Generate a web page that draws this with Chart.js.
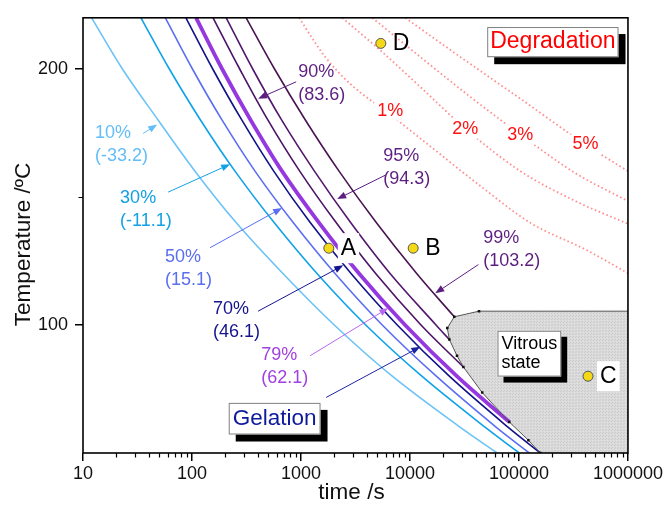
<!DOCTYPE html>
<html>
<head>
<meta charset="utf-8">
<title>TTT diagram</title>
<script src="https://cdn.jsdelivr.net/npm/chart.js@4.4.1/dist/chart.umd.min.js"></script>
<style>
  html, body { margin: 0; padding: 0; background: #fff; }
</style>
</head>
<body>
<canvas id="tttChart" width="665" height="511"></canvas>
<script>
// =============================
// DATA
// =============================
// iso-conversion curves: temperature (ºC) vs time (s)
const tempLevels = [220, 200, 180, 160, 140, 120, 100, 80, 60, 50];
const time10 = [12, 23, 49, 107, 254, 686, 2020, 6880, 28970, 63300];
const time30 = [34, 62, 120, 249, 567, 1409, 3927, 12840, 49150, 100900];
const time50 = [57, 101, 189, 380, 848, 2061, 5567, 17440, 62000, 124600];
const time70 = [88, 155, 287, 564, 1215, 2891, 7645, 22960, 79750, 157300];

const temp79 = [220, 200, 180, 160, 140, 120, 100, 80, 62.1];
const time79 = [109, 189, 346, 672, 1460, 3423, 9016, 26900, 81600];
const temp90 = [220, 200, 180, 160, 140, 120, 100, 83.6];
const time90 = [156, 274, 498, 977, 2100, 4863, 12620, 30900];
const temp95 = [220, 200, 180, 160, 140, 120, 100, 94.3];
const time95 = [206, 361, 666, 1333, 2854, 6594, 17330, 23000];
const temp99 = [220, 200, 180, 160, 140, 120, 103.2];
const time99 = [314, 572, 1100, 2243, 4903, 11570, 25500];

// vitrification boundary (first point sits on the right edge)
const glassTime = [1000000, 43000, 25500, 22000, 23000, 27000, 30900, 46000, 81600, 122000, 157000];
const glassTemp = [105.4, 105.4, 103.2, 98.8, 94.3, 88, 83.6, 73.6, 62.1, 55, 50];

// degradation iso-conversion lines
const deg1Time = [960, 1670, 2830, 6590, 15350, 44250, 127400, 424600, 1000000];
const deg1Temp = [220, 204.7, 194.2, 182.2, 169.8, 154.3, 139.9, 129.1, 120.2];
const deg2Time = [2390, 5570, 12440, 32210, 103000, 329600, 1000000];
const deg2Temp = [220, 206.6, 193, 176.7, 160.1, 148.4, 139.5];
const deg3Time = [4510, 12440, 35800, 103000, 329600, 1000000];
const deg3Temp = [220, 204.7, 189.1, 174.4, 159.3, 148.4];
const deg5Time = [9060, 28970, 103000, 407400, 1000000];
const deg5Temp = [220, 204.7, 188.4, 170.5, 160.1];

// cure states
const pointNames = ['A', 'B', 'C', 'D'];
const pointTime = [1800, 10700, 430000, 5400];
const pointTemp = [130, 130, 80, 210];

const xTicks = [10, 100, 1000, 10000, 100000, 1000000];
const yTicks = [100, 200];

// =============================
// LABELS
// =============================
const FONT = 'Arial, "Liberation Sans", sans-serif';

const curveNotes = [
    { text: ['10%', '(-33.2)'], at: [12.9, 174.8], from: [35.6, 174.8], to: [47.9, 178.3], color: '#63bdf8' },
    { text: ['30%', '(-11.1)'], at: [21.9, 149.6], from: [60.4, 151.9], to: [224, 162.8], color: '#12a0e6' },
    { text: ['50%', '(15.1)'], at: [56.6, 126.7], from: [146.6, 130.2], to: [671, 145.7], color: '#5a6ef0' },
    { text: ['70%', '(46.1)'], at: [156, 106.2], from: [404, 105.4], to: [2443, 123.3], color: '#141490' },
    { text: ['79%', '(62.1)'], at: [431, 88.4], from: [1213, 88.0], to: [6324, 106.6], color: '#a040e0', arrowColor: '#b868f0' },
    { text: ['90%', '(83.6)'], at: [942, 198.8], from: [904, 195], to: [404, 188.4], color: '#5c1f80' },
    { text: ['95%', '(94.3)'], at: [5690, 165.9], from: [5930, 158.5], to: [2148, 149.2], color: '#5c1f80' },
    { text: ['99%', '(103.2)'], at: [47100, 134.1], from: [42400, 123.6], to: [17060, 112.4], color: '#5c1f80' }
];

const degNotes = [
    { text: '1%', at: [6590, 183.7] },
    { text: '2%', at: [32200, 176.7] },
    { text: '3%', at: [103000, 174.4] },
    { text: '5%', at: [407000, 170.5] }
];

const boxNotes = [
    { text: ['Degradation'], at: [204600, 210.5], color: '#ff0000', size: 23, pad: 3, shadow: 7 },
    { text: ['Gelation'], at: [573, 63.4], color: '#0e1a9c', size: 22.5, pad: 4, shadow: 7 },
    { text: ['Vitrous', 'state'], at: [124500, 88.8], color: '#000', size: 18, pad: 4, shadow: 6 }
];

const gelationArrow = { from: [1702, 71.7], to: [12450, 91.5], color: '#1c24a0' };

// =============================
// DATASETS
// =============================
function pairs(xs, ys) {
    return xs.map((x, i) => ({ x: x, y: ys[i] }));
}

function curve(label, xs, ys, color, width) {
    return {
        label: label, data: pairs(xs, ys), showLine: true, borderColor: color,
        borderWidth: width, pointRadius: 0, tension: 0.35, fill: false, clip: 0
    };
}

function degLine(label, xs, ys) {
    return {
        label: label, data: pairs(xs, ys), showLine: true, borderColor: 'rgba(255,95,95,0.7)',
        borderWidth: 1.8, borderDash: [1.6, 2.6], pointRadius: 0,
        cubicInterpolationMode: 'monotone', fill: false, clip: 0
    };
}

const datasets = [
    {
        label: 'states', data: pairs(pointTime, pointTemp), showLine: false,
        pointRadius: 5, pointBackgroundColor: '#f5d816', pointBorderColor: '#555', pointBorderWidth: 1
    },
    {
        label: 'vitrification', data: pairs(glassTime, glassTemp), showLine: true, tension: 0,
        borderColor: '#555', borderWidth: 1, pointStyle: 'rect',
        pointRadius: c => c.dataIndex === 0 ? 0 : 1.8,
        pointBackgroundColor: '#111', pointBorderWidth: 0, clip: 0
    },
    curve('99%', time99, temp99, '#4a1452', 1.6),
    curve('95%', time95, temp95, '#53186e', 1.6),
    curve('90%', time90, temp90, '#4d1466', 1.6),
    curve('79%', time79, temp79, '#9638e0', 3.8),
    curve('70%', time70, tempLevels, '#12128a', 1.6),
    curve('50%', time50, tempLevels, '#5b6ff2', 1.6),
    curve('30%', time30, tempLevels, '#0fa2e8', 1.6),
    curve('10%', time10, tempLevels, '#6cc3f7', 1.6),
    degLine('deg 1%', deg1Time, deg1Temp),
    degLine('deg 2%', deg2Time, deg2Temp),
    degLine('deg 3%', deg3Time, deg3Temp),
    degLine('deg 5%', deg5Time, deg5Temp)
];

// =============================
// DRAWING HELPERS
// =============================
function drawArrow(ctx, x1, y1, x2, y2, color) {
    const ang = Math.atan2(y2 - y1, x2 - x1);
    const len = 9, half = 3.5;
    const c = Math.cos(ang), s = Math.sin(ang);
    ctx.strokeStyle = color;
    ctx.fillStyle = color;
    ctx.lineWidth = 1;
    ctx.setLineDash([]);
    ctx.beginPath();
    ctx.moveTo(x1, y1);
    ctx.lineTo(x2 - c * len * 0.8, y2 - s * len * 0.8);
    ctx.stroke();
    ctx.beginPath();
    ctx.moveTo(x2, y2);
    ctx.lineTo(x2 - len * c + half * s, y2 - len * s - half * c);
    ctx.lineTo(x2 - len * c - half * s, y2 - len * s + half * c);
    ctx.closePath();
    ctx.fill();
}

// speckled grey for the glassy region
function glassPattern(ctx) {
    const tile = document.createElement('canvas');
    tile.width = 3;
    tile.height = 3;
    const t = tile.getContext('2d');
    t.fillStyle = '#dadada';
    t.fillRect(0, 0, 3, 3);
    t.fillStyle = '#cbcbcb';
    t.fillRect(0, 0, 1, 1);
    t.fillRect(2, 1, 1, 1);
    t.fillStyle = '#e4e4e4';
    t.fillRect(1, 2, 1, 1);
    return ctx.createPattern(tile, 'repeat');
}

const notesPlugin = {
    id: 'notes',
    beforeDatasetsDraw(chart) {
        const { ctx, chartArea: a, scales: { x, y } } = chart;
        ctx.save();
        ctx.beginPath();
        ctx.rect(a.left, a.top, a.right - a.left, a.bottom - a.top);
        ctx.clip();
        ctx.beginPath();
        glassTime.forEach((t, i) => {
            const px = x.getPixelForValue(t), py = y.getPixelForValue(glassTemp[i]);
            if (i === 0) ctx.moveTo(px, py); else ctx.lineTo(px, py);
        });
        ctx.lineTo(x.getPixelForValue(1000000), y.getPixelForValue(50));
        ctx.closePath();
        ctx.fillStyle = glassPattern(ctx);
        ctx.fill();
        ctx.restore();
    },
    afterDatasetsDraw(chart) {
        const { ctx, chartArea: a, scales: { x, y } } = chart;
        const px = t => x.getPixelForValue(t);
        const py = v => y.getPixelForValue(v);
        ctx.save();
        ctx.textBaseline = 'middle';

        // degradation percentages on white
        ctx.font = '18px ' + FONT;
        ctx.textAlign = 'center';
        degNotes.forEach(n => {
            const cx = px(n.at[0]), cy = py(n.at[1]);
            const w = ctx.measureText(n.text).width;
            ctx.fillStyle = '#fff';
            ctx.fillRect(cx - w / 2 - 3, cy - 10, w + 6, 20);
            ctx.fillStyle = '#ff1010';
            ctx.fillText(n.text, cx, cy);
        });

        // state letters
        ctx.font = '23px ' + FONT;
        ctx.textAlign = 'left';
        pointNames.forEach((name, i) => {
            const lx = px(pointTime[i]) + 12, ly = py(pointTemp[i]);
            const w = ctx.measureText(name).width;
            if (name === 'A' || name === 'C') {
                ctx.fillStyle = '#fff';
                ctx.fillRect(lx - 3, ly - 15, w + 6, 30);
            }
            ctx.fillStyle = '#000';
            ctx.fillText(name, lx, ly);
        });

        // conversion labels and their arrows
        ctx.font = '18px ' + FONT;
        curveNotes.forEach(n => {
            const lx = px(n.at[0]), ly = py(n.at[1]);
            ctx.fillStyle = n.color;
            ctx.textAlign = 'left';
            n.text.forEach((line, k) => ctx.fillText(line, lx, ly + k * 23));
            drawArrow(ctx, px(n.from[0]), py(n.from[1]), px(n.to[0]), py(n.to[1]), n.arrowColor || n.color);
        });
        drawArrow(ctx, px(gelationArrow.from[0]), py(gelationArrow.from[1]),
            px(gelationArrow.to[0]), py(gelationArrow.to[1]), gelationArrow.color);

        // framed region names with drop shadow
        boxNotes.forEach(b => {
            ctx.font = b.size + 'px ' + FONT;
            const lh = b.size * 1.05;
            const w = Math.max(...b.text.map(t => ctx.measureText(t).width)) + b.pad * 2;
            const h = lh * b.text.length + b.pad * 2;
            const bx = px(b.at[0]) - w / 2, by = py(b.at[1]) - h / 2;
            ctx.fillStyle = '#000';
            ctx.fillRect(bx + b.shadow, by + b.shadow, w, h);
            ctx.fillStyle = '#fff';
            ctx.fillRect(bx, by, w, h);
            ctx.strokeStyle = '#808080';
            ctx.lineWidth = 1;
            ctx.strokeRect(bx + 0.5, by + 0.5, w - 1, h - 1);
            ctx.fillStyle = b.color;
            ctx.textAlign = 'left';
            b.text.forEach((t, k) => ctx.fillText(t, bx + b.pad, by + b.pad + lh * (k + 0.5)));
        });

        // plot frame
        ctx.strokeStyle = '#000';
        ctx.lineWidth = 1.6;
        ctx.strokeRect(a.left, a.top, a.right - a.left, a.bottom - a.top);

        // minor ticks
        ctx.lineWidth = 1.2;
        ctx.beginPath();
        for (let d = 10; d < 1000000; d *= 10) {
            for (let m = 2; m <= 9; m++) {
                const tx = Math.round(px(m * d)) + 0.5;
                ctx.moveTo(tx, a.bottom);
                ctx.lineTo(tx, a.bottom + 4.5);
            }
        }
        const ty = Math.round(py(150)) + 0.5;
        ctx.moveTo(a.left, ty);
        ctx.lineTo(a.left - 4.5, ty);
        ctx.stroke();

        // axis titles
        ctx.fillStyle = '#111';
        ctx.font = '22.5px ' + FONT;
        ctx.textAlign = 'center';
        ctx.fillText('time /s', 351.5, 492.5);
        ctx.translate(23.5, 244.5);
        ctx.rotate(-Math.PI / 2);
        ctx.fillText('Temperature /ºC', 0, 0);
        ctx.restore();
    }
};

// =============================
// CHART
// =============================
const ctxT = document.getElementById('tttChart');
if (ctxT) {
    new Chart(ctxT, {
        type: 'scatter',
        data: { datasets: datasets },
        options: {
            responsive: false,
            devicePixelRatio: 1,
            animation: false,
            layout: { padding: { top: 16, right: 37, left: 0, bottom: 0 } },
            plugins: { legend: { display: false }, tooltip: { enabled: false } },
            scales: {
                x: {
                    type: 'logarithmic', min: 10, max: 1000000,
                    afterBuildTicks: s => { s.ticks = xTicks.map(v => ({ value: v })); },
                    afterFit: s => { s.height = 58; },
                    grid: { display: true, drawOnChartArea: false, tickLength: 8, color: '#000', lineWidth: 1.5 },
                    border: { display: false },
                    ticks: {
                        padding: 2, color: '#111', autoSkip: false, maxRotation: 0,
                        font: { family: FONT, size: 18 },
                        callback: v => String(v)
                    },
                    title: { display: false }
                },
                y: {
                    min: 50, max: 220,
                    afterBuildTicks: s => { s.ticks = yTicks.map(v => ({ value: v })); },
                    afterFit: s => { s.width = 83; },
                    grid: { display: true, drawOnChartArea: false, tickLength: 8, color: '#000', lineWidth: 1.5 },
                    border: { display: false },
                    ticks: { padding: 7, color: '#111', font: { family: FONT, size: 18 } },
                    title: { display: false }
                }
            }
        },
        plugins: [notesPlugin]
    });
}
</script>
</body>
</html>
